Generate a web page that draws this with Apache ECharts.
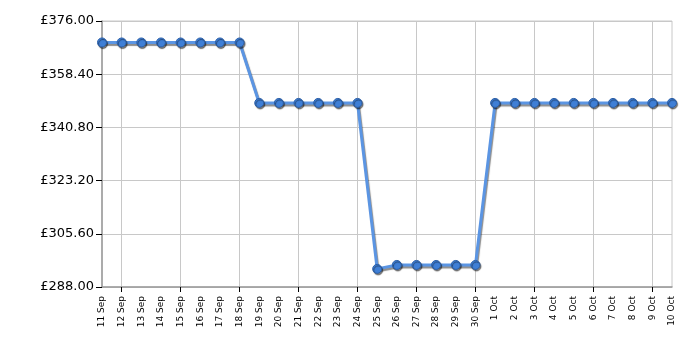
<!DOCTYPE html>
<html><head><meta charset="utf-8">
<script src="https://cdn.jsdelivr.net/npm/echarts@6/dist/echarts.min.js"></script>
<style>html,body{margin:0;padding:0;background:#fff}#c{width:700px;height:350px}</style>
</head><body><div id="c"></div>
<script>
const categories = ["11 Sep","12 Sep","13 Sep","14 Sep","15 Sep","16 Sep","17 Sep","18 Sep","19 Sep","20 Sep","21 Sep","22 Sep","23 Sep","24 Sep","25 Sep","26 Sep","27 Sep","28 Sep","29 Sep","30 Sep","1 Oct","2 Oct","3 Oct","4 Oct","5 Oct","6 Oct","7 Oct","8 Oct","9 Oct","10 Oct"];
const prices = [368.9,368.9,368.9,368.9,368.9,368.9,368.9,368.9,348.9,348.9,348.9,348.9,348.9,348.9,294.0,295.3,295.3,295.3,295.3,295.3,348.9,348.9,348.9,348.9,348.9,348.9,348.9,348.9,348.9,348.9];
const yMin = 288, yMax = 376, yStep = 17.6;

const chart = echarts.init(document.getElementById('c'));
chart.setOption({
  animation: false,
  grid: {left: 102, right: 28, top: 21, bottom: 63, show: true, borderColor: '#c8c8c8', borderWidth: 1},
  xAxis: {
    type: 'category', data: categories, boundaryGap: false,
    axisLine: {lineStyle: {color: '#999', width: 1.5}},
    axisTick: {show: true, length: 5, interval: (i) => i % 3 === 1, lineStyle: {color: '#000'}},
    splitLine: {show: true, interval: (i) => i % 3 === 1, lineStyle: {color: '#c8c8c8'}},
    axisLabel: {rotate: 90, interval: 0, fontFamily: 'DejaVu Sans', fontSize: 9, color: '#000', margin: 9}
  },
  yAxis: {
    type: 'value', min: yMin, max: yMax, interval: yStep,
    axisLine: {show: true, lineStyle: {color: '#999', width: 1.5}},
    axisTick: {show: true, length: 6, lineStyle: {color: '#000'}},
    splitLine: {lineStyle: {color: '#c8c8c8'}},
    axisLabel: {fontFamily: 'DejaVu Sans', fontSize: 13, color: '#000', margin: 8,
      formatter: (v) => '£' + v.toFixed(2)}
  },
  series: [{
    type: 'line', data: prices, symbol: 'circle', symbolSize: 9,
    lineStyle: {color: '#5b95e3', width: 3, shadowColor: 'rgba(0,0,0,0.45)', shadowOffsetX: 1, shadowOffsetY: 2, shadowBlur: 1},
    itemStyle: {color: '#3f7fd6', borderColor: '#2b5fa8', borderWidth: 1, shadowColor: 'rgba(0,0,0,0.5)', shadowOffsetX: 1, shadowOffsetY: 1.5, shadowBlur: 1}
  }]
});
</script></body></html>
